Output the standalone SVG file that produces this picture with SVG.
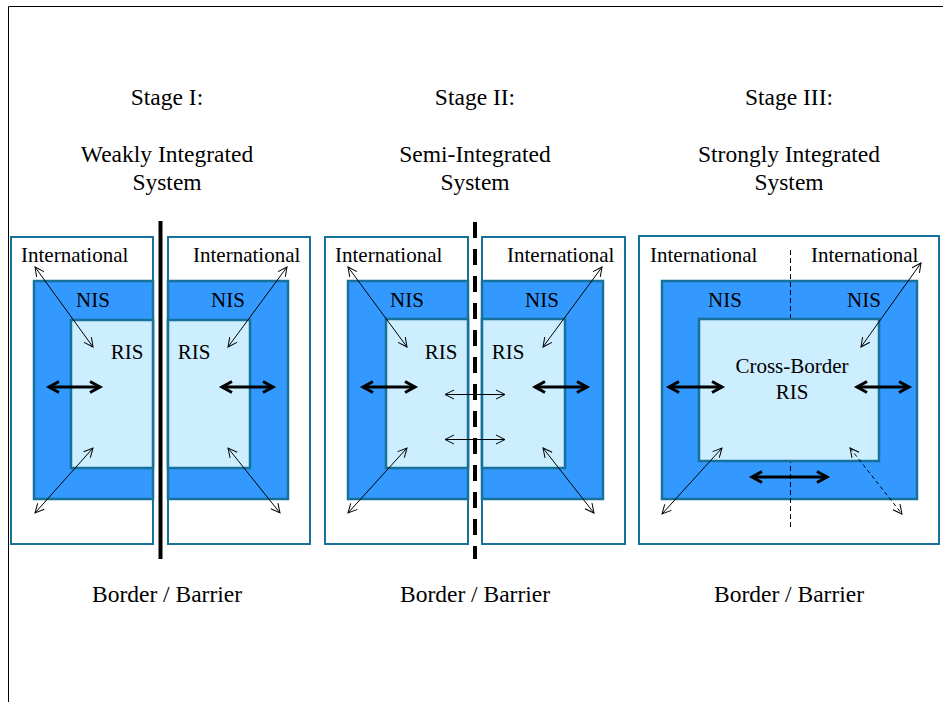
<svg xmlns="http://www.w3.org/2000/svg" width="943" height="702" viewBox="0 0 943 702">
<style>
.title{font-family:"Liberation Serif","Times New Roman",serif;font-size:23.5px;fill:#000;text-anchor:middle}
.lbl{font-family:"Liberation Serif","Times New Roman",serif;font-size:21px;fill:#000}
.mid{text-anchor:middle}
.outer{fill:#fff;stroke:#17729b;stroke-width:2}
.nis{fill:#3399ff;stroke:#17729b;stroke-width:2.5}
.ris{fill:#cceeff;stroke:#17729b;stroke-width:2.5}
.thin{stroke:#000;stroke-width:1;fill:none;marker-start:url(#ah);marker-end:url(#ah)}
.thick{stroke:#000;stroke-width:3;fill:none;marker-start:url(#ahb);marker-end:url(#ahb)}
</style>
<defs>
<marker id="ah" markerUnits="userSpaceOnUse" viewBox="-11 -6 12 12" markerWidth="12" markerHeight="12" refX="0" refY="0" orient="auto-start-reverse" overflow="visible">
<path d="M-9,-4.5 L0,0 L-9,4.5" fill="none" stroke="#000" stroke-width="1"/>
</marker>
<marker id="ahb" markerUnits="userSpaceOnUse" viewBox="-14 -8 16 16" markerWidth="16" markerHeight="16" refX="0" refY="0" orient="auto-start-reverse" overflow="visible">
<path d="M-10,-5.5 L0,0 L-10,5.5" fill="none" stroke="#000" stroke-width="3"/>
</marker>
</defs>
<rect width="943" height="702" fill="#fff"/>
<path d="M8.5,702 L8.5,6.5 L943,6.5" fill="none" stroke="#000" stroke-width="1"/>

<g id="titles">
<text class="title" x="167" y="105">Stage I:</text>
<text class="title" x="167" y="162">Weakly Integrated</text>
<text class="title" x="167" y="190">System</text>
<text class="title" x="475" y="105">Stage II:</text>
<text class="title" x="475" y="162">Semi-Integrated</text>
<text class="title" x="475" y="190">System</text>
<text class="title" x="789" y="105">Stage III:</text>
<text class="title" x="789" y="162">Strongly Integrated</text>
<text class="title" x="789" y="190">System</text>
<text class="title" x="167" y="602">Border / Barrier</text>
<text class="title" x="475" y="602">Border / Barrier</text>
<text class="title" x="789" y="602">Border / Barrier</text>
</g>

<g id="stage1-left">
<rect class="outer" x="11" y="237" width="142" height="307"/>
<rect class="nis" x="34" y="281" width="119" height="218"/>
<rect class="ris" x="71" y="320" width="82" height="148"/>
<text class="lbl" x="21" y="262">International</text>
<text class="lbl mid" x="93" y="307">NIS</text>
<text class="lbl mid" x="127" y="359">RIS</text>
</g>
<g id="stage1-right">
<rect class="outer" x="168" y="237" width="142" height="307"/>
<rect class="nis" x="168" y="281" width="120" height="218"/>
<rect class="ris" x="168" y="320" width="82" height="148"/>
<text class="lbl" x="193" y="262">International</text>
<text class="lbl mid" x="228" y="307">NIS</text>
<text class="lbl mid" x="194" y="359">RIS</text>
</g>
<g id="barrier1">
<line x1="160.5" y1="221" x2="160.5" y2="559" stroke="#000" stroke-width="4"/>
</g>

<g id="stage2-left">
<rect class="outer" x="325" y="237" width="143" height="307"/>
<rect class="nis" x="348" y="281" width="120" height="218"/>
<rect class="ris" x="386" y="319" width="82" height="149"/>
<text class="lbl" x="335" y="262">International</text>
<text class="lbl mid" x="407" y="307">NIS</text>
<text class="lbl mid" x="441" y="359">RIS</text>
</g>
<g id="stage2-right">
<rect class="outer" x="482" y="237" width="143" height="307"/>
<rect class="nis" x="482" y="281" width="121" height="218"/>
<rect class="ris" x="482" y="319" width="83" height="149"/>
<text class="lbl" x="507" y="262">International</text>
<text class="lbl mid" x="542" y="307">NIS</text>
<text class="lbl mid" x="508" y="359">RIS</text>
</g>
<g id="barrier2">
<line x1="475" y1="222" x2="475" y2="559" stroke="#000" stroke-width="4" stroke-dasharray="16 11"/>
</g>

<g id="stage3">
<rect class="outer" x="639" y="236" width="300" height="308"/>
<rect class="nis" x="662" y="281" width="255" height="218"/>
<line x1="790.5" y1="250" x2="790.5" y2="528" stroke="#000" stroke-width="1" stroke-dasharray="5 3"/>
<rect class="ris" x="699" y="319" width="180" height="142"/>
<text class="lbl" x="650" y="262">International</text>
<text class="lbl" x="811" y="262">International</text>
<text class="lbl mid" x="725" y="307">NIS</text>
<text class="lbl mid" x="864" y="307">NIS</text>
<text class="lbl mid" x="792" y="373">Cross-Border</text>
<text class="lbl mid" x="792" y="399">RIS</text>
</g>

<g id="connectors">
<line class="thin" x1="35" y1="267" x2="93" y2="347"/>
<line class="thin" x1="35" y1="513" x2="93" y2="448"/>
<line class="thick" x1="49" y1="387" x2="100" y2="387"/>
<line class="thin" x1="287" y1="267" x2="228" y2="347"/>
<line class="thin" x1="228" y1="448" x2="280" y2="513"/>
<line class="thick" x1="222" y1="387" x2="273" y2="387"/>

<line class="thin" x1="348" y1="267" x2="407" y2="347"/>
<line class="thin" x1="348" y1="513" x2="407" y2="448"/>
<line class="thick" x1="363" y1="387" x2="415" y2="387"/>
<line class="thin" x1="602" y1="267" x2="543" y2="347"/>
<line class="thin" x1="543" y1="448" x2="594" y2="513"/>
<line class="thick" x1="535" y1="387" x2="587" y2="387"/>
<line class="thin" x1="445" y1="394.5" x2="505" y2="394.5"/>
<line class="thin" x1="445" y1="439.5" x2="505" y2="439.5"/>

<line class="thick" x1="669" y1="387" x2="722" y2="387"/>
<line class="thick" x1="857" y1="387" x2="909" y2="387"/>
<line class="thick" x1="752" y1="477" x2="827" y2="477"/>
<line class="thin" x1="662" y1="514" x2="722" y2="448"/>
<line class="thin" x1="921" y1="263" x2="861" y2="347"/>
<line class="thin" x1="850" y1="448" x2="902" y2="514" stroke-dasharray="4 3"/>
</g>
</svg>
